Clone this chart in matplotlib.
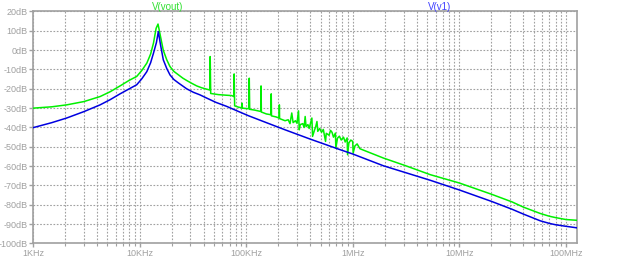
import numpy as np
import matplotlib
matplotlib.use("Agg")
import matplotlib.pyplot as plt
from matplotlib.ticker import FixedLocator, LogLocator, NullFormatter

# --- datos (frecuencia en Hz, magnitud en dB) ---

v1_freq = [1e3, 1.5e3, 2.07e3, 3e3, 4.26e3, 5.3e3, 6.56e3, 8e3, 9.4e3, 10.5e3,
           11.7e3, 12.7e3, 13.5e3, 14.4e3, 15.0e3, 15.7e3, 16.7e3, 18e3, 19.3e3,
           21e3, 23.2e3, 27.7e3, 32e3, 36.8e3, 42.7e3, 52e3, 65.8e3, 83e3, 105e3,
           150e3, 232e3, 399e3, 764e3, 1e6, 1.94e6, 5.34e6, 10e6, 20e6, 31.3e6,
           40e6, 57.7e6, 70e6, 80e6, 100e6, 127e6]
v1_db = [-40.1, -37.5, -35.1, -31.8, -28.3, -25.6, -22.6, -20.0, -17.9, -14.8,
         -11.1, -6.5, -1.6, 4.0, 9.6, 3.0, -5.0, -9.5, -12.8,
         -15.2, -17.0, -20.0, -21.8, -23.1, -24.8, -27.0, -29.1, -31.5, -33.9,
         -37.2, -41.2, -46.0, -51.5, -53.7, -59.8, -67.3, -72.3, -78.2, -82.3,
         -84.8, -88.3, -89.6, -90.3, -91.1, -91.9]

vout_freq = [1e3, 1.5e3, 2.07e3, 3e3, 4.26e3, 5.3e3, 6.56e3, 8e3, 9.4e3, 10.5e3,
             11.7e3, 12.7e3, 13.5e3, 14.3e3, 14.9e3, 15.6e3, 16.7e3, 18e3, 19.3e3,
             21e3, 23.2e3, 25.5e3, 27.7e3, 31e3, 34.4e3, 38e3, 42.7e3,
             45.6e3, 46.0e3, 46.5e3, 55e3, 65e3, 73.4e3, 76.6e3, 77.2e3, 78e3,
             85e3, 90.8e3, 91.5e3, 92.3e3, 106e3, 107e3, 108e3, 120e3,
             137e3, 138e3, 139e3, 155e3, 171e3, 172e3, 173e3, 190e3,
             204e3, 205e3, 206e3, 232e3, 248e3, 258e3, 268e3, 276e3,
             290e3, 300e3, 310e3, 315e3, 322e3, 340e3, 350e3, 358e3, 365e3,
             380e3, 390e3, 414e3, 420e3, 440e3, 450e3, 462e3, 470e3, 490e3,
             510e3, 530e3, 556e3, 565e3, 600e3, 620e3, 640e3, 660e3, 688e3,
             695e3, 720e3, 750e3, 780e3, 820e3, 850e3, 887e3, 895e3, 920e3,
             960e3, 1e6, 1.01e6, 1.05e6, 1.1e6, 1.17e6, 1.94e6, 3.11e6,
             5.34e6, 10e6, 20e6, 31.3e6, 40e6, 57.7e6, 70e6, 80e6, 100e6, 127e6]
vout_db = [-30.0, -29.3, -28.3, -26.6, -24.0, -21.5, -18.5, -15.6, -13.6, -10.5,
           -6.7, -2.0, 3.6, 11.3, 13.5, 8.0, -0.1, -5.0, -8.5,
           -11.0, -12.8, -14.5, -15.7, -17.2, -18.5, -19.4, -20.2,
           -20.6, -3.3, -22.4, -23.0, -23.3, -23.5, -24.0, -12.3, -28.8,
           -29.5, -29.8, -27.4, -30.0, -30.3, -14.5, -30.6, -31.0,
           -31.7, -18.5, -32.0, -33.0, -33.4, -22.6, -34.0, -34.5,
           -35.1, -28.3, -35.4, -36.5, -36.0, -38.0, -32.5, -37.5,
           -36.5, -37.8, -31.4, -41.2, -38.5, -38.0, -40.0, -34.3, -39.5,
           -38.5, -40.5, -35.1, -44.6, -41.0, -39.5, -36.9, -42.0, -40.5,
           -42.5, -41.0, -47.2, -43.0, -44.0, -41.5, -42.5, -45.0, -42.9,
           -50.6, -45.5, -44.5, -46.5, -45.0, -47.5, -45.4, -54.1, -48.0,
           -46.5, -47.2, -53.2, -49.5, -48.5, -51.0, -55.8, -59.7,
           -64.4, -68.7, -74.5, -78.5, -81.2, -84.5, -85.9, -86.6, -87.6, -88.0]

y_ticks = list(range(20, -110, -10))
x_ticks = [1e3, 1e4, 1e5, 1e6, 1e7, 1e8]
x_labels = ["1KHz", "10KHz", "100KHz", "1MHz", "10MHz", "100MHz"]

gris = "#a0a0a0"
verde = "#00f000"
azul = "#0000e0"

plt.rcParams["font.family"] = ["Liberation Sans", "DejaVu Sans"]

fig = plt.figure(figsize=(6.19, 2.6), dpi=100)
ax = fig.add_axes([0.0533, 0.0635, 0.8787, 0.8923])

ax.plot(vout_freq, vout_db, color=verde, lw=1.1, zorder=3)
ax.plot(v1_freq, v1_db, color=azul, lw=1.1, zorder=4)

ax.set_xscale("log")
ax.set_xlim(1e3, 1.27e8)
ax.set_ylim(-100, 20)

ax.xaxis.set_major_locator(FixedLocator(x_ticks))
ax.set_xticklabels(x_labels)
ax.xaxis.set_minor_locator(LogLocator(base=10, subs=np.arange(2, 10)))
ax.xaxis.set_minor_formatter(NullFormatter())
ax.set_yticks(y_ticks)
ax.set_yticklabels([f"{v}dB" for v in y_ticks])

ax.grid(True, which="both", axis="x", color=gris, ls=(0, (1.5, 1.5)), lw=0.8)
ax.grid(True, which="major", axis="y", color=gris, ls=(0, (1.5, 1.5)), lw=0.8)

for s in ax.spines.values():
    s.set_color(gris)
    s.set_linewidth(1.2)

ax.tick_params(axis="both", which="major", colors=gris, labelcolor=gris,
               labelsize=6.5, length=3, width=1, pad=0.8)
ax.tick_params(axis="x", which="minor", colors=gris, length=2, width=0.8)

fig.text(168 / 619, 1 - 7 / 260, "V(vout)", color="#30e030", fontsize=7,
         ha="center", va="center")
fig.text(440 / 619, 1 - 7 / 260, "V(v1)", color="#4040ff", fontsize=7,
         ha="center", va="center")

fig.savefig("out.png", dpi=100)
